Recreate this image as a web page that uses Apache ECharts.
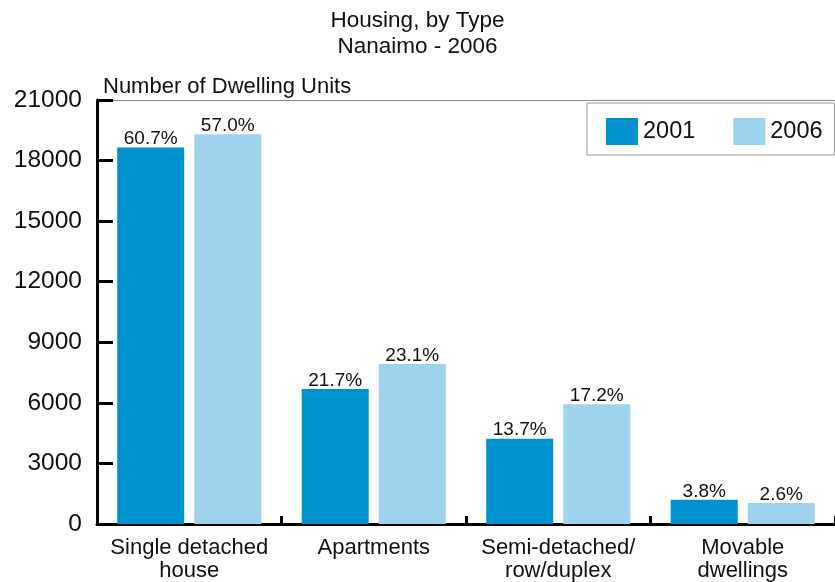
<!DOCTYPE html>
<html>
<head>
<meta charset="utf-8">
<script src="https://cdn.jsdelivr.net/npm/echarts@6/dist/echarts.min.js"></script>
<style>
  html, body { margin: 0; padding: 0; background: #fff; }
  #chart { width: 835px; height: 582px; }
</style>
</head>
<body>
<div id="chart"></div>
<script>
// Dwelling types in Nanaimo, census years 2001 and 2006
const categories = ['Single detached\nhouse', 'Apartments', 'Semi-detached/\nrow/duplex', 'Movable\ndwellings'];
const units2001 = [18650, 6690, 4225, 1200];
const units2006 = [19300, 7920, 5930, 1035];
const share2001 = ['60.7%', '21.7%', '13.7%', '3.8%'];
const share2006 = ['57.0%', '23.1%', '17.2%', '2.6%'];
const yTicks = { min: 0, max: 21000, interval: 3000 };

const FONT = '"Liberation Sans", Arial, sans-serif';
const INK = '#111';

const chart = echarts.init(document.getElementById('chart'), null, { renderer: 'canvas' });

function barLabel(shares) {
  return {
    show: true,
    position: 'top',
    distance: -1,
    color: INK,
    fontFamily: FONT,
    fontSize: 19,
    formatter: p => shares[p.dataIndex]
  };
}

chart.setOption({
  backgroundColor: '#fff',
  animation: false,
  title: {
    text: 'Housing, by Type\nNanaimo - 2006',
    left: 'center',
    top: 8,
    padding: [0, 0, 0, 13],
    textStyle: {
      fontFamily: FONT,
      fontSize: 22.5,
      fontWeight: 'normal',
      color: INK,
      lineHeight: 26
    }
  },
  legend: {
    data: ['2001', '2006'],
    left: 587,
    top: 103,
    orient: 'horizontal',
    padding: [15, 12, 10, 19],
    itemWidth: 32,
    itemHeight: 27,
    itemGap: 38,
    borderColor: '#999',
    borderWidth: 1,
    backgroundColor: '#fff',
    icon: 'rect',
    textStyle: {
      fontFamily: FONT,
      fontSize: 23.5,
      color: INK,
      padding: [0, 0, 6, 0]
    }
  },
  grid: {
    left: 97,
    top: 100,
    bottom: 56,
    right: -8,
    containLabel: false
  },
  xAxis: [{
    type: 'category',
    data: categories,
    position: 'bottom',
    axisLine: { lineStyle: { color: '#000', width: 3 } },
    axisTick: { show: true, inside: true, length: 8, lineStyle: { color: '#000', width: 3 } },
    axisLabel: {
      margin: 12,
      fontFamily: FONT,
      fontSize: 22,
      lineHeight: 23,
      color: INK,
      interval: 0
    }
  }, {
    type: 'category',
    data: categories,
    position: 'top',
    axisLine: { show: true, lineStyle: { color: '#8a8a8a', width: 1 } },
    axisTick: { show: false },
    axisLabel: { show: false }
  }],
  yAxis: {
    type: 'value',
    min: yTicks.min,
    max: yTicks.max,
    interval: yTicks.interval,
    name: 'Number of Dwelling Units',
    nameLocation: 'end',
    nameGap: 13,
    nameTextStyle: {
      fontFamily: FONT,
      fontSize: 22,
      color: INK,
      align: 'left',
      verticalAlign: 'middle',
      padding: [0, 0, 0, 6]
    },
    axisLine: { show: true, lineStyle: { color: '#000', width: 3 } },
    axisTick: { show: true, inside: true, length: 16, lineStyle: { color: '#000', width: 3 } },
    axisLabel: {
      margin: 15,
      fontFamily: FONT,
      fontSize: 24.5,
      color: INK,
      formatter: v => String(v)
    },
    splitLine: { show: false }
  },
  series: [{
    name: '2001',
    type: 'bar',
    data: units2001,
    barWidth: 67,
    barGap: '15%',
    itemStyle: { color: '#0092CE' },
    label: barLabel(share2001)
  }, {
    name: '2006',
    type: 'bar',
    data: units2006,
    barWidth: 67,
    barGap: '15%',
    itemStyle: { color: '#9DD3EC' },
    label: barLabel(share2006)
  }]
});
</script>
</body>
</html>
